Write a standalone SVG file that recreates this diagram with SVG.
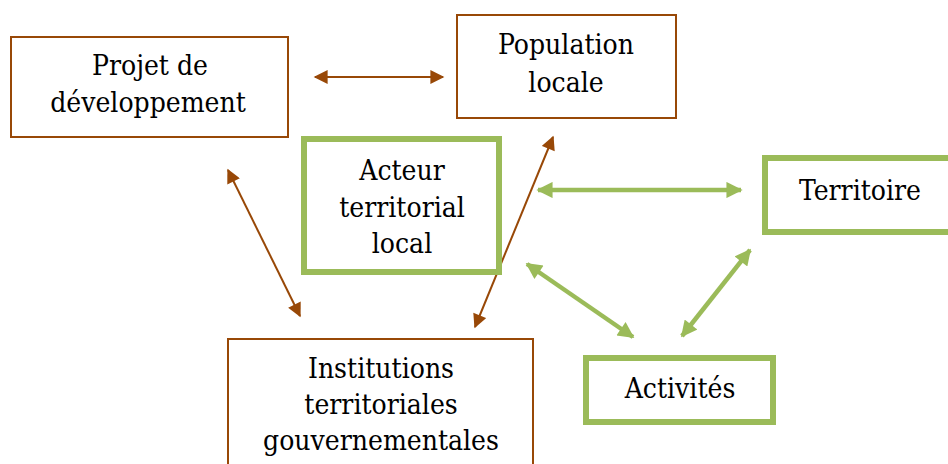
<svg xmlns="http://www.w3.org/2000/svg" width="948" height="464" viewBox="0 0 948 464">
<style>
.b{fill:#fff;stroke:#984807;stroke-width:2}
.g{fill:#fff;stroke:#9bbb59;stroke-width:6}
.t{font-family:"DejaVu Serif Condensed","DejaVu Serif",serif;font-stretch:condensed;font-size:28px;fill:#000;text-anchor:middle}
.cb{stroke:#984807;stroke-width:2;fill:none;marker-start:url(#mb);marker-end:url(#mb)}
.cg{stroke:#9bbb59;stroke-width:4.5;fill:none;marker-start:url(#mg);marker-end:url(#mg)}
</style>
<defs>
<marker id="mb" viewBox="0 0 10 10" refX="9" refY="5" markerWidth="7.5" markerHeight="7" orient="auto-start-reverse" markerUnits="strokeWidth"><path d="M0,0L10,5L0,10z" fill="#984807"/></marker>
<marker id="mg" viewBox="0 0 10 10" refX="9" refY="5" markerWidth="3.8" markerHeight="3.6" orient="auto-start-reverse" markerUnits="strokeWidth"><path d="M0,0L10,5L0,10z" fill="#9bbb59"/></marker>
</defs>
<rect width="948" height="464" fill="#fff"/>
<g id="connectors">
<line class="cb" x1="315" y1="77" x2="443" y2="77"/>
<line class="cb" x1="228" y1="170" x2="300" y2="316"/>
<line class="cb" x1="553" y1="137" x2="475" y2="327"/>
<line class="cg" x1="538" y1="190" x2="741" y2="190"/>
<line class="cg" x1="527" y1="264" x2="633" y2="337"/>
<line class="cg" x1="750" y1="250" x2="682" y2="336"/>
</g>
<g class="t">
<g id="projet"><rect class="b" x="11" y="37" width="277" height="100"/><text x="150" y="75">Projet de</text><text x="148" y="112">développement</text></g>
<g id="population"><rect class="b" x="457" y="15" width="219" height="103"/><text x="566" y="54">Population</text><text x="566" y="92">locale</text></g>
<g id="acteur"><rect class="g" x="304" y="139" width="195" height="133"/><text x="402" y="180">Acteur</text><text x="402" y="217">territorial</text><text x="402" y="253">local</text></g>
<g id="territoire"><rect class="g" x="765" y="158" width="190" height="74"/><text x="860" y="200">Territoire</text></g>
<g id="activites"><rect class="g" x="586" y="358" width="187" height="64"/><text x="680" y="398">Activités</text></g>
<g id="institutions"><rect class="b" x="228" y="339" width="305" height="135"/><text x="381" y="378">Institutions</text><text x="381" y="414">territoriales</text><text x="381" y="450">gouvernementales</text></g>
</g>
</svg>
